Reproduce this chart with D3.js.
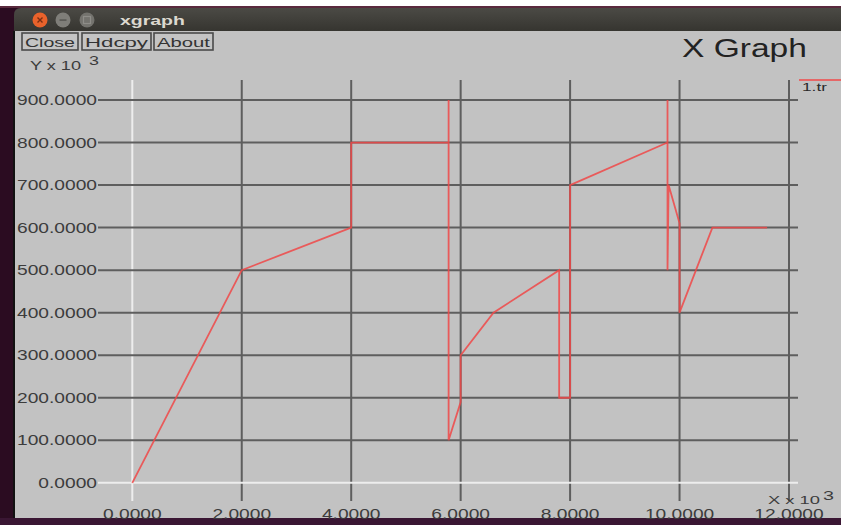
<!DOCTYPE html>
<html>
<head>
<meta charset="utf-8">
<script src="https://cdn.jsdelivr.net/npm/d3@7"></script>
<style>
  html, body { margin: 0; padding: 0; background: #ffffff; }
  svg { display: block; }
  text { font-family: "Liberation Sans", Arial, sans-serif; }
</style>
</head>
<body>
<svg id="chart" width="841" height="525"></svg>
<script>
// Trace "1.tr": time (x 10^3) and value (x 10^3)
const traceX = [0, 2, 4, 4, 5.78, 5.78, 5.78, 6.0, 6.0, 6.6, 7.8, 7.8, 8.0, 8.0, 9.78, 9.78, 9.78, 9.8, 10.0, 10.0, 10.6, 11.6];
const traceY = [0, 500, 600, 800, 800, 900, 100, 190, 300, 400, 500, 200, 200, 700, 800, 900, 500, 700, 610, 400, 600, 600];
const xTicks = [0, 2, 4, 6, 8, 10, 12];
const yTicks = [0, 100, 200, 300, 400, 500, 600, 700, 800, 900];
const buttonLabels = ["Close", "Hdcpy", "About"];
const windowTitle = "xgraph";
const graphTitle = "X Graph";
const legendName = "1.tr";

const svg = d3.select("#chart");

// Horizontally stretched text: draw at natural size, then scale to a target width
function stretched(parent, str, x, y, opts) {
  const g = parent.append("g").attr("transform", `translate(${x},${y})`);
  const t = g.append("text")
    .attr("x", 0).attr("y", 0)
    .attr("text-anchor", opts.anchor || "start")
    .attr("font-size", opts.size)
    .attr("font-weight", opts.weight || "normal")
    .attr("fill", opts.color || "#3a3a3a")
    .text(str);
  let sx = opts.sx || 1;
  if (opts.width) sx = opts.width / t.node().getComputedTextLength();
  g.attr("transform", `translate(${x},${y}) scale(${sx},1)`);
  return g;
}

// ---- desktop / window frame ----
svg.append("rect").attr("x", 0).attr("y", 0).attr("width", 841).attr("height", 525).attr("fill", "#2b0c21");
svg.append("rect").attr("x", 0).attr("y", 0).attr("width", 841).attr("height", 7).attr("fill", "#ffffff");
svg.append("rect").attr("x", 0).attr("y", 6).attr("width", 841).attr("height", 2).attr("fill", "#5a2a3e");

const defs = svg.append("defs");
const tg = defs.append("linearGradient").attr("id", "titlebar").attr("x1", 0).attr("y1", 0).attr("x2", 0).attr("y2", 1);
tg.append("stop").attr("offset", "0%").attr("stop-color", "#4b4a45");
tg.append("stop").attr("offset", "100%").attr("stop-color", "#35342f");

svg.append("path")
  .attr("d", "M14,32 L14,15 Q14,8 21,8 L841,8 L841,32 Z")
  .attr("fill", "url(#titlebar)");

// window controls
svg.append("circle").attr("cx", 40).attr("cy", 20).attr("r", 7.5).attr("fill", "#e9622b");
svg.append("path").attr("d", "M37.5,17.5 L42.5,22.5 M42.5,17.5 L37.5,22.5").attr("stroke", "#7a2e12").attr("stroke-width", 1.4);
svg.append("circle").attr("cx", 63).attr("cy", 20).attr("r", 7.5).attr("fill", "#7f7e79");
svg.append("rect").attr("x", 59.5).attr("y", 19.2).attr("width", 7).attr("height", 1.8).attr("fill", "#5d5c58");
svg.append("circle").attr("cx", 87).attr("cy", 20).attr("r", 7.5).attr("fill", "#74736e");
svg.append("rect").attr("x", 83.5).attr("y", 16.5).attr("width", 7).attr("height", 7).attr("fill", "none").attr("stroke", "#8e8d88").attr("stroke-width", 1.2);

stretched(svg, windowTitle, 120, 25, { size: 13, weight: "bold", color: "#dcd8cf", width: 65 });

// ---- xgraph panel ----
svg.append("rect").attr("x", 15).attr("y", 31).attr("width", 826).attr("height", 487).attr("fill", "#c2c2c2");
svg.append("rect").attr("x", 13).attr("y", 31).attr("width", 2).attr("height", 487).attr("fill", "#111111");
svg.append("rect").attr("x", 0).attr("y", 518).attr("width", 841).attr("height", 7).attr("fill", "#3a1633");

// buttons
const buttonBoxes = [[22, 78], [82, 151], [154, 213]];
buttonLabels.forEach((lab, i) => {
  const [x0, x1] = buttonBoxes[i];
  svg.append("rect").attr("x", x0).attr("y", 33).attr("width", x1 - x0).attr("height", 17)
    .attr("fill", "#c4c4c4").attr("stroke", "#4a4a4a").attr("stroke-width", 1.6);
  stretched(svg, lab, (x0 + x1) / 2, 46.5, { size: 13, anchor: "middle", color: "#333333", width: x1 - x0 - 6 });
});

// title
stretched(svg, graphTitle, 682, 57, { size: 25, color: "#222222", width: 125 });

// ---- scales ----
const x = d3.scaleLinear().domain([0, 12]).range([132.3, 789]);
const y = d3.scaleLinear().domain([0, 900]).range([482.8, 100]);
const fmt = d3.format(".4f");

// grid: vertical lines
svg.append("g").selectAll("line").data(xTicks).join("line")
  .attr("x1", d => x(d)).attr("x2", d => x(d))
  .attr("y1", 80).attr("y2", 501)
  .attr("stroke", d => d === 0 ? "#ededed" : "#5e5e5e")
  .attr("stroke-width", 2);

// grid: horizontal lines
svg.append("g").selectAll("line").data(yTicks).join("line")
  .attr("x1", 98).attr("x2", 798)
  .attr("y1", d => y(d)).attr("y2", d => y(d))
  .attr("stroke", d => d === 0 ? "#ededed" : "#5e5e5e")
  .attr("stroke-width", 2);

// y tick labels
const yLab = svg.append("g");
yTicks.forEach(v => {
  stretched(yLab, fmt(v), 97, y(v) + 5, { size: 14, anchor: "end", color: "#3c3c3c", sx: 1.37 });
});

// x tick labels
const xLab = svg.append("g");
xTicks.forEach(v => {
  stretched(xLab, fmt(v), x(v), 519, { size: 14, anchor: "middle", color: "#3c3c3c", sx: 1.37 });
});

// axis unit labels
stretched(svg, "Y x 10", 30, 70, { size: 12, color: "#3c3c3c", width: 51 });
stretched(svg, "3", 89, 65, { size: 12, color: "#3c3c3c", width: 10 });
stretched(svg, "X x 10", 768, 503.5, { size: 11, color: "#3c3c3c", width: 52 });
stretched(svg, "3", 823, 499.5, { size: 12, color: "#3c3c3c", width: 11 });

// ---- data trace ----
const pts = traceX.map((d, i) => [d, traceY[i]]);
const line = d3.line().x(d => x(d[0])).y(d => y(d[1]));
svg.append("path")
  .datum(pts)
  .attr("d", line)
  .attr("fill", "none")
  .attr("stroke", "#f04848")
  .attr("stroke-opacity", 0.85)
  .attr("stroke-width", 1.8)
  .attr("stroke-linejoin", "miter");

// legend
svg.append("line").attr("x1", 799).attr("x2", 841).attr("y1", 80).attr("y2", 80)
  .attr("stroke", "#f04848").attr("stroke-width", 1.6);
stretched(svg, legendName, 802, 91, { size: 11, color: "#2a2a2a", width: 25 });
</script>
</body>
</html>
